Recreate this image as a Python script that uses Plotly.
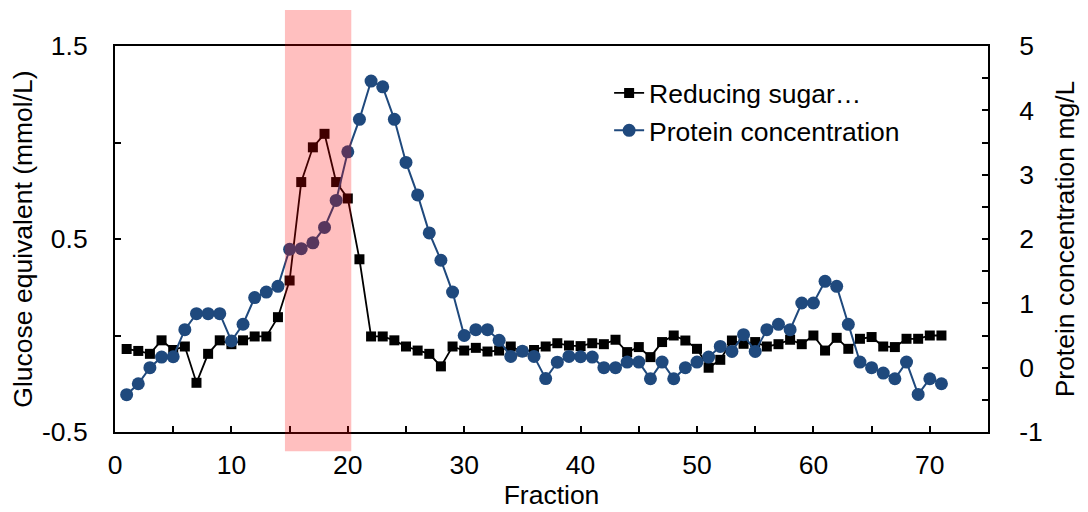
import plotly.graph_objects as go

fraction = list(range(1, 72))
reducing_sugar = [
    -0.07, -0.08, -0.095, -0.025, -0.075, -0.057, -0.245, -0.095, -0.025, -0.045,
    -0.025, -0.005, -0.005, 0.095, 0.285, 0.795, 0.975, 1.045, 0.795, 0.71,
    0.395, -0.005, -0.005, -0.025, -0.057, -0.078, -0.095, -0.16, -0.057, -0.078,
    -0.064, -0.083, -0.078, -0.057, -0.083, -0.075, -0.057, -0.04, -0.052, -0.055,
    -0.04, -0.045, -0.022, -0.086, -0.06, -0.112, -0.034, 0.0, -0.026, -0.069,
    -0.167, -0.126, -0.026, -0.043, -0.034, -0.057, -0.045, -0.022, -0.045, 0.0,
    -0.078, -0.012, -0.069, -0.017, -0.008, -0.057, -0.06, -0.017, -0.017, 0.0, 0.0,
]
protein = [
    -0.42, -0.25, 0.0, 0.165, 0.17, 0.59, 0.84, 0.84, 0.84, 0.415,
    0.675, 1.09, 1.175, 1.265, 1.84, 1.85, 1.94, 2.18, 2.6, 3.355,
    3.86, 4.455, 4.365, 3.86, 3.19, 2.685, 2.095, 1.67, 1.175, 0.5,
    0.59, 0.59, 0.425, 0.175, 0.255, 0.175, -0.17, 0.085, 0.175, 0.17,
    0.165, 0.0, 0.0, 0.087, 0.087, -0.172, 0.087, -0.172, 0.0, 0.087,
    0.164, 0.33, 0.253, 0.513, 0.253, 0.59, 0.673, 0.59, 1.005, 1.005,
    1.342, 1.265, 0.673, 0.087, 0.0, -0.084, -0.172, 0.087, -0.416, -0.172, -0.25,
]
highlight_range = [14.6, 20.3]

x_ticks = [0, 10, 20, 30, 40, 50, 60, 70]
y_ticks = [-0.5, 0.5, 1.5]
y_ticklabels = ["-0.5", "0.5", "1.5"]
y2_ticks = [-1, 0, 1, 2, 3, 4, 5]
y2_ticklabels = ["-1", "0", "1", "2", "3", "4", "5"]

FONT = "Liberation Sans, Arial, sans-serif"
FS = 26.5
BLUE = "#1F497D"

fig = go.Figure()
fig.add_trace(go.Scatter(
    x=fraction, y=reducing_sugar, name="Reducing sugar…", mode="lines+markers",
    line=dict(color="black", width=1.8),
    marker=dict(symbol="square", size=10, color="black"),
))
fig.add_trace(go.Scatter(
    x=fraction, y=protein, name="Protein concentration", mode="lines+markers",
    yaxis="y2",
    line=dict(color=BLUE, width=2),
    marker=dict(symbol="circle", size=13, color=BLUE),
))

fig.add_shape(type="rect", xref="x", yref="paper",
              x0=highlight_range[0], x1=highlight_range[1], y0=-0.05, y1=1.093,
              fillcolor="rgba(255,0,0,0.25)", line=dict(width=0), layer="above")

axis_common = dict(showline=True, linecolor="black", linewidth=2, ticks="inside",
                   ticklen=6, tickwidth=2, tickcolor="black", showgrid=False,
                   zeroline=False, tickfont=dict(family=FONT, size=FS, color="black"))
minor_common = dict(ticks="inside", ticklen=6, tickwidth=2, tickcolor="black")

fig.update_layout(
    width=1088, height=512,
    margin=dict(l=115, r=100, t=46, b=80),
    plot_bgcolor="white", paper_bgcolor="white",
    font=dict(family=FONT, size=FS, color="black"),
    showlegend=True,
    legend=dict(x=0.566, y=0.94, xanchor="left", yanchor="top",
                bgcolor="rgba(0,0,0,0)", font=dict(family=FONT, size=FS, color="black"),
                tracegroupgap=0),
    xaxis=dict(range=[0, 75], tickmode="array", tickvals=x_ticks, mirror=True,
               ticklabelstandoff=8,
               minor=dict(dtick=5, tick0=0, **minor_common),
               title=dict(text="Fraction", font=dict(family=FONT, size=FS), standoff=2),
               **axis_common),
    yaxis=dict(range=[-0.5, 1.5], tickmode="array", tickvals=y_ticks, ticktext=y_ticklabels,
               ticklabelstandoff=20,
               minor=dict(dtick=0.5, tick0=-0.5, **minor_common),
               title=dict(text="Glucose equivalent (mmol/L)", font=dict(family=FONT, size=FS), standoff=2),
               **axis_common),
    yaxis2=dict(range=[-1, 5], tickmode="array", tickvals=y2_ticks, ticktext=y2_ticklabels,
                overlaying="y", side="right", ticklabelstandoff=24,
                minor=dict(dtick=0.5, tick0=-1, **minor_common),
                title=dict(text="Protein concentration mg/L", font=dict(family=FONT, size=FS), standoff=14),
                **axis_common),
)

fig.write_html("out.html")
